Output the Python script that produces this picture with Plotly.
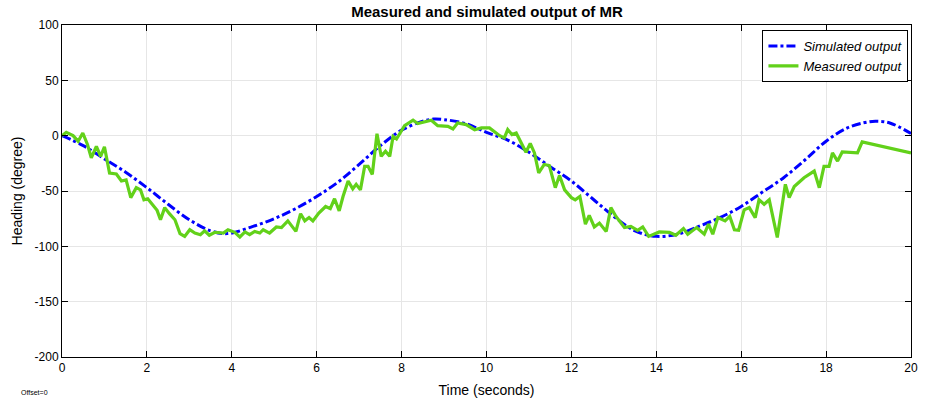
import plotly.graph_objects as go

sim_t = [0, 0.5, 1, 1.5, 2, 2.5, 3, 3.5, 3.9, 4.5, 5, 5.5, 6, 6.5, 7, 7.5, 8, 8.5,
         8.75, 9, 9.5, 10, 10.5, 11, 11.5, 12, 12.5, 13, 13.5, 14, 14.5, 15, 15.5,
         16, 16.5, 17, 17.5, 18, 18.5, 19, 19.2, 19.5, 20]
sim_y = [0, -9, -21, -33, -47, -62, -76, -86, -88.5, -82, -75, -66, -55, -42, -26,
         -9, 5, 13, 15, 14.5, 11, 3, -4, -15, -28, -41, -57, -73, -86, -91, -89,
         -82, -74, -64, -51, -38, -22, -5, 7, 12.5, 13, 11.5, 2]

meas_t = [0, 0.1, 0.26, 0.38, 0.49, 0.6, 0.69, 0.81, 0.91, 1.0, 1.12, 1.28, 1.4, 1.51,
          1.62, 1.75, 1.85, 1.93, 2.02, 2.14, 2.24, 2.32, 2.42, 2.53, 2.66, 2.78, 2.89,
          3.01, 3.13, 3.26, 3.36, 3.47, 3.6, 3.8, 3.91, 4.07, 4.19, 4.31, 4.42, 4.54,
          4.66, 4.74, 4.89, 5.05, 5.17, 5.32, 5.51, 5.62, 5.72, 5.82, 5.91, 6.05, 6.21,
          6.32, 6.42, 6.53, 6.62, 6.74, 6.85, 6.93, 7.03, 7.13, 7.21, 7.31, 7.42, 7.52,
          7.62, 7.72, 7.8, 7.88, 8.07, 8.27, 8.38, 8.7, 8.85, 9.09, 9.21, 9.32, 9.52,
          9.72, 9.88, 10.07, 10.31, 10.42, 10.5, 10.6, 10.7, 10.93, 11.03, 11.13, 11.23,
          11.36, 11.48, 11.62, 11.72, 11.84, 12.0, 12.09, 12.2, 12.33, 12.42, 12.54,
          12.66, 12.82, 12.93, 13.05, 13.25, 13.4, 13.56, 13.68, 13.82, 14.07, 14.31,
          14.46, 14.64, 14.74, 14.95, 15.13, 15.23, 15.33, 15.45, 15.62, 15.73, 15.84,
          15.94, 16.07, 16.19, 16.33, 16.42, 16.54, 16.66, 16.85, 17.04, 17.13, 17.25,
          17.48, 17.72, 17.84, 17.95, 18.07, 18.15, 18.27, 18.38, 18.74, 18.85, 20]
meas_y = [0, 3, 0, -5, 2.4, -8, -20, -9.6, -18.7, -10, -33.7, -34.6, -41, -40,
          -56, -47, -49, -58, -57, -63, -67.5, -76, -65, -70.5, -76, -88.5, -91,
          -85, -88, -89.5, -86, -90, -87.3, -88, -85, -87.3, -91.5, -87, -89.5, -86.5,
          -88, -85, -88, -82.5, -83, -77, -86.5, -70.5, -77, -74, -77, -70, -64,
          -66, -57, -68, -55, -41, -48, -44, -49, -27.7, -27.7, -35, 1.8, -18.7,
          -14, -18.7, -0.6, -3, 9, 14, 11, 14, 9, 8.4, 6, 11.5, 10,
          5.4, 7, 7, 0, -2, 5.5, 1, 2.4, -15, -7, -15.6, -33.7,
          -26, -27, -47, -36, -49, -56, -58, -55, -80, -72, -82.5,
          -79, -86.5, -65, -73, -83, -82, -85.5, -82.5, -91, -87, -87.3,
          -90, -84, -89, -83, -89, -80, -89, -74, -77, -73, -85,
          -85.5, -67, -65, -74, -58, -62, -58, -92, -44, -56, -46,
          -38, -32, -47, -27.7, -27.7, -15.6, -23, -14.7, -15.6, -5.7, -15.6]

x_ticks = [0, 2, 4, 6, 8, 10, 12, 14, 16, 18, 20]
y_ticks = [100, 50, 0, -50, -100, -150, -200]

fig = go.Figure()
fig.add_trace(go.Scatter(x=sim_t, y=sim_y, mode="lines", name="Simulated output",
                         line=dict(color="#0000FF", width=3, dash="9px,3px,3px,3px", shape="spline")))
fig.add_trace(go.Scatter(x=meas_t, y=meas_y, mode="lines", name="Measured output",
                         line=dict(color="#62D11A", width=3.2)))

font = "Liberation Sans, Arial, sans-serif"
axis_common = dict(showgrid=True, gridcolor="#E6E6E6", gridwidth=1, showline=True,
                   linecolor="black", linewidth=1, mirror="ticks", ticks="inside",
                   ticklen=6, tickcolor="black", zeroline=False,
                   tickfont=dict(family=font, size=12, color="black"))
fig.update_xaxes(range=[0, 20], tickvals=x_ticks, ticktext=[str(v) for v in x_ticks],
                 title=dict(text="Time (seconds)", font=dict(family=font, size=14, color="black"), standoff=10),
                 **axis_common)
fig.update_yaxes(range=[-200, 100], tickvals=y_ticks, ticktext=[str(v) for v in y_ticks],
                 title=dict(text="Heading (degree)", font=dict(family=font, size=14, color="black"), standoff=8),
                 **axis_common)

fig.update_layout(
    width=927, height=408,
    margin=dict(l=62, r=9, t=25, b=51),
    paper_bgcolor="white", plot_bgcolor="white",
    title=dict(text="<b>Measured and simulated output of MR</b>", x=(62 + 912) / 2 / 927, xanchor="center",
               y=1 - 12 / 408, yanchor="middle", font=dict(family=font, size=15, color="black")),
    legend=dict(x=0.997, y=0.985, xanchor="right", yanchor="top", bgcolor="white",
                bordercolor="black", borderwidth=1,
                font=dict(family=font, size=13, color="black", style="italic"),
                tracegroupgap=0, itemwidth=30),
    showlegend=True,
    annotations=[dict(text="Offset=0", xref="paper", yref="paper", x=-0.032, y=-0.108,
                      xanchor="center", yanchor="middle", showarrow=False,
                      font=dict(family=font, size=7, color="black"))],
)

fig.write_html("out.html")
